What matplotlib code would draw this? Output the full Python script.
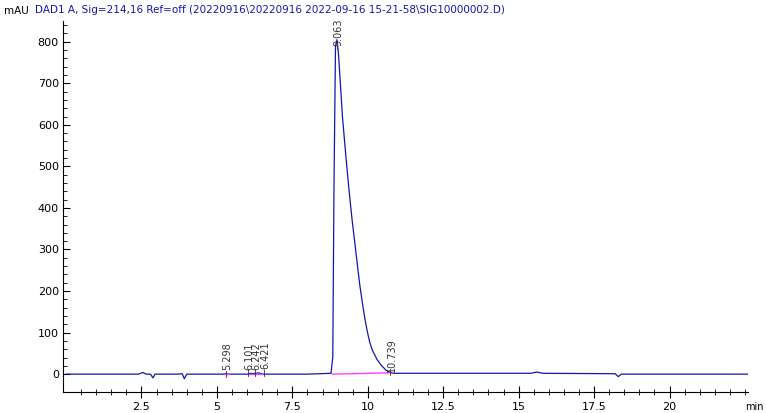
import numpy as np
import matplotlib.pyplot as plt

# chromatogram trace (min, mAU)
time = [0.0, 2.4, 2.55, 2.65, 2.8, 2.88, 2.95, 3.1, 3.7, 3.85, 3.92, 4.0, 4.3,
        5.2, 5.3, 5.4, 6.05, 6.1, 6.2, 6.25, 6.4, 6.45, 6.55, 8.0, 8.78, 8.84,
        8.88, 8.93, 8.98, 9.03, 9.1, 9.16, 9.25, 9.33, 9.41, 9.49, 9.58, 9.66,
        9.74, 9.82, 9.9, 9.98, 10.06, 10.15, 10.3, 10.45, 10.61, 10.74, 10.85,
        12.0, 15.4, 15.6, 15.8, 18.2, 18.3, 18.4, 22.6]
signal = [0, 0, 4, 0, 0, -9, 0, 0, 0, 1, -11, 0, 0,
          0, 1, 0, 0, 2, 1, 2, 3, 1, 0, 0, 2, 40,
          450, 790, 805, 770, 690, 620, 545, 480, 420, 365, 310, 260,
          212, 172, 135, 104, 78, 58, 36, 21, 9, 4, 2,
          2, 2, 5, 2, 1, -6, 0, 0]

peak_rt = [5.298, 6.101, 6.242, 6.421, 9.063, 10.739]
peak_lbl = ["5.298", "6.101", "6.242", "6.421", "9.063", "10.739"]
peak_y = [2, 3, 3, 4, 790, 6]
blue = "#1515b0"

fig = plt.figure(figsize=(7.66, 4.13), dpi=100)
ax = fig.add_axes([63 / 766, 21 / 413, 685 / 766, 371 / 413])
ax.plot(time, signal, color=blue, lw=0.9)
ax.plot([8.82, 10.7], [0, 3], color="#ff40ff", lw=1.0)
for x0, x1 in [(5.25, 5.4), (6.05, 6.5)]:
    ax.plot([x0, x1], [0, 0], color="#ff40ff", lw=1.0)

offsets = [0, -0.08, 0.02, 0.14, -0.08, 0]
for rt, lbl, yy, dx in zip(peak_rt, peak_lbl, peak_y, offsets):
    xx = rt + dx
    ax.text(xx + 0.05, yy + 8 if rt < 9 else yy, lbl, rotation=90, fontsize=7,
            ha="center", va="bottom", color="#333333")
    ax.plot([xx, xx], [yy - 8, yy + 6], color="#333333", lw=0.6)

ax.set_xlim(-0.1, 22.6)
ax.set_ylim(-43, 850)
ax.set_xticks([2.5, 5, 7.5, 10, 12.5, 15, 17.5, 20])
ax.set_xticklabels(["2.5", "5", "7.5", "10", "12.5", "15", "17.5", "20"])
ax.set_xticks(np.arange(0.5, 22.6, 0.5), minor=True)
ax.set_yticks([0, 100, 200, 300, 400, 500, 600, 700, 800])
ax.set_yticks(np.arange(0, 850, 20), minor=True)
ax.tick_params(labelsize=8, direction="in", length=5, pad=3)
ax.tick_params(axis="x", direction="inout", length=8)
ax.tick_params(which="minor", direction="in", length=3)
ax.tick_params(axis="x", which="minor", direction="inout", length=5)
for s in ["top", "right"]:
    ax.spines[s].set_visible(False)

fig.text(4 / 766, 1 - 14 / 413, "mAU", fontsize=7.5)
fig.text(745 / 766, 1 - 410 / 413, "min", fontsize=7)
fig.text(35 / 766, 1 - 10 / 413,
         r"DAD1 A, Sig=214,16 Ref=off (20220916\20220916 2022-09-16 15-21-58\SIG10000002.D)",
         fontsize=7.5, color=blue, va="center")

fig.savefig("out.png", dpi=100)
